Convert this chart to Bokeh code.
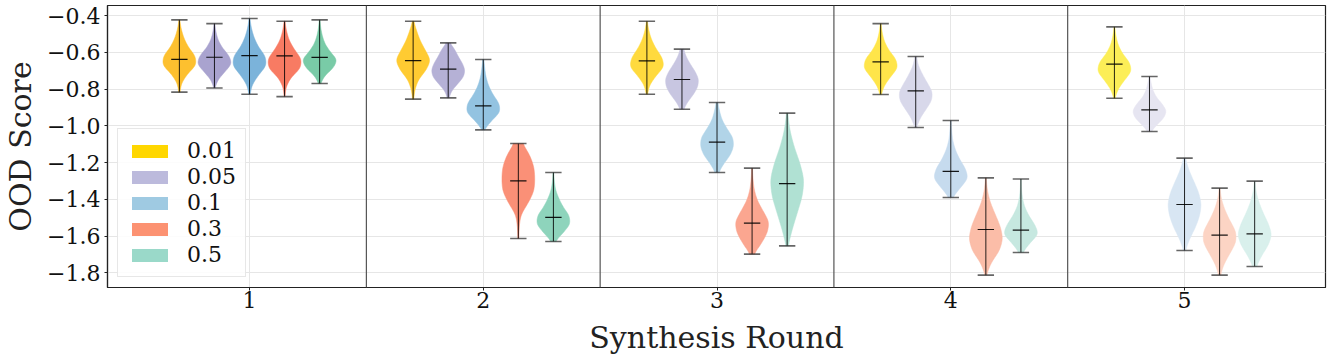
import numpy as np
from bokeh.plotting import figure
from bokeh.models import ColumnDataSource, Span, Legend, LegendItem
from bokeh.embed import file_html
from bokeh.resources import INLINE

# ---------------- data ----------------
rounds = [1, 2, 3, 4, 5]
series = ["0.01", "0.05", "0.1", "0.3", "0.5"]

# per series: values for rounds 1..5
v_min = {
    "0.01": [-0.817, -0.855, -0.828, -0.830, -0.850],
    "0.05": [-0.794, -0.848, -0.910, -1.009, -1.031],
    "0.1":  [-0.828, -1.022, -1.254, -1.390, -1.678],
    "0.3":  [-0.841, -1.613, -1.698, -1.812, -1.812],
    "0.5":  [-0.770, -1.629, -1.653, -1.689, -1.765],
}
v_max = {
    "0.01": [-0.424, -0.431, -0.431, -0.444, -0.462],
    "0.05": [-0.444, -0.549, -0.583, -0.623, -0.732],
    "0.1":  [-0.416, -0.639, -0.873, -0.971, -1.176],
    "0.3":  [-0.431, -1.096, -1.230, -1.283, -1.339],
    "0.5":  [-0.424, -1.254, -0.931, -1.289, -1.301],
}
v_med = {
    "0.01": [-0.639, -0.645, -0.647, -0.652, -0.665],
    "0.05": [-0.627, -0.692, -0.748, -0.810, -0.913],
    "0.1":  [-0.618, -0.892, -1.089, -1.248, -1.428],
    "0.3":  [-0.620, -1.299, -1.529, -1.564, -1.595],
    "0.5":  [-0.628, -1.498, -1.314, -1.567, -1.588],
}
# relative density at 9 evenly spaced levels from min (first) to max (last)
v_density = {
    "0.01": [
        [0.03, 0.12, 0.45, 0.95, 0.90, 0.50, 0.25, 0.10, 0.02],
        [0.03, 0.10, 0.30, 0.75, 1.00, 0.70, 0.40, 0.20, 0.03],
        [0.03, 0.15, 0.50, 0.95, 0.85, 0.50, 0.25, 0.10, 0.02],
        [0.03, 0.20, 0.55, 0.95, 0.85, 0.45, 0.20, 0.08, 0.02],
        [0.03, 0.20, 0.55, 0.95, 0.85, 0.45, 0.20, 0.08, 0.02],
    ],
    "0.05": [
        [0.03, 0.20, 0.60, 1.00, 0.85, 0.45, 0.20, 0.08, 0.02],
        [0.05, 0.20, 0.55, 0.90, 1.00, 0.85, 0.60, 0.40, 0.10],
        [0.10, 0.35, 0.70, 0.95, 1.00, 0.80, 0.50, 0.25, 0.10],
        [0.05, 0.25, 0.60, 0.95, 1.00, 0.70, 0.40, 0.15, 0.05],
        [0.10, 0.45, 0.85, 1.00, 0.75, 0.40, 0.20, 0.10, 0.03],
    ],
    "0.1": [
        [0.03, 0.15, 0.50, 0.95, 0.90, 0.50, 0.25, 0.10, 0.02],
        [0.05, 0.45, 0.95, 0.90, 0.55, 0.30, 0.15, 0.08, 0.03],
        [0.10, 0.40, 0.80, 1.00, 0.95, 0.60, 0.30, 0.15, 0.05],
        [0.10, 0.55, 1.00, 0.85, 0.50, 0.25, 0.10, 0.05, 0.02],
        [0.05, 0.30, 0.65, 0.90, 1.00, 0.85, 0.55, 0.25, 0.05],
    ],
    "0.3": [
        [0.02, 0.08, 0.35, 0.90, 0.95, 0.55, 0.25, 0.10, 0.02],
        [0.03, 0.05, 0.15, 0.60, 0.95, 1.00, 0.95, 0.70, 0.25],
        [0.10, 0.55, 0.90, 1.00, 0.65, 0.30, 0.12, 0.05, 0.02],
        [0.03, 0.30, 0.80, 1.00, 0.85, 0.55, 0.25, 0.08, 0.02],
        [0.05, 0.25, 0.60, 0.95, 0.95, 0.60, 0.30, 0.10, 0.02],
    ],
    "0.5": [
        [0.05, 0.30, 0.80, 1.00, 0.60, 0.30, 0.15, 0.06, 0.02],
        [0.10, 0.55, 0.95, 0.90, 0.55, 0.30, 0.12, 0.05, 0.02],
        [0.05, 0.30, 0.60, 0.90, 1.00, 0.75, 0.40, 0.15, 0.03],
        [0.10, 0.50, 1.00, 0.80, 0.45, 0.20, 0.08, 0.03, 0.02],
        [0.10, 0.40, 0.80, 1.00, 0.80, 0.50, 0.25, 0.08, 0.02],
    ],
}

y_ticks = [-1.8, -1.6, -1.4, -1.2, -1.0, -0.8, -0.6, -0.4]
y_tick_labels = ["\u22121.8", "\u22121.6", "\u22121.4", "\u22121.2",
                 "\u22121.0", "\u22120.8", "\u22120.6", "\u22120.4"]
x_tick_labels = ["1", "2", "3", "4", "5"]

# ---------------- style ----------------
FONT = "DejaVu Serif"
fill_colors = {
    "0.01": ["#FDC02F", "#FFCB32", "#FFDA3E", "#FFE54A", "#FCEE57"],
    "0.05": ["#A9A3CF", "#B5B1D6", "#C8C6E1", "#D8D8EA", "#E6E5F1"],
    "0.1":  ["#7BB3DA", "#93C3E1", "#B1D4E8", "#C6DBEE", "#D8E6F3"],
    "0.3":  ["#F87B63", "#FA9077", "#FBA690", "#FBBDA8", "#FCD4C4"],
    "0.5":  ["#79CBA7", "#8ED4BC", "#B0E1D3", "#C6E8E0", "#D9F0EC"],
}
legend_colors = ["#FFD700", "#BCBADC", "#9FCAE2", "#FC9272", "#9AD9C9"]
offset_step = 0.15
violin_width = 0.14
cap_half = violin_width * 0.25


def smooth_profile(lo, hi, dens, n=90):
    levels = np.linspace(lo, hi, len(dens))
    ys = np.linspace(lo, hi, n)
    w = np.interp(ys, levels, dens)
    k = np.exp(-0.5 * (np.arange(-9, 10) / 3.5) ** 2)
    k /= k.sum()
    ws = np.convolve(np.pad(w, 9, mode="edge"), k, mode="valid")
    return ys, ws / ws.max()


p = figure(frame_width=1218, frame_height=282, output_backend="svg",
           toolbar_location=None,
           x_range=(0.3925, 5.603), y_range=(-1.8794, -0.3456),
           min_border_left=101, min_border_right=4, min_border_top=5,
           min_border_bottom=68)

p.background_fill_color = "white"
p.outline_line_color = "#222222"
p.outline_line_width = 1.2
p.xgrid.grid_line_color = "#e6e6e6"
p.ygrid.grid_line_color = "#e6e6e6"
p.xgrid.grid_line_width = 1
p.ygrid.grid_line_width = 1

# separators between rounds
for r in rounds[:-1]:
    p.add_layout(Span(location=r + 0.5, dimension="height",
                      line_color="#555555", line_width=1.2))

pxs, pys, pcol = [], [], []
seg = dict(x=[], lo=[], hi=[], med=[], xl=[], xr=[])
for si, s in enumerate(series):
    off = (si - 2) * offset_step
    for ri, r in enumerate(rounds):
        cx = r + off
        lo, hi, md = v_min[s][ri], v_max[s][ri], v_med[s][ri]
        ys, ws = smooth_profile(lo, hi, v_density[s][ri])
        hw = violin_width / 2 * ws
        pxs.append(list(np.concatenate([cx + hw, (cx - hw)[::-1]])))
        pys.append(list(np.concatenate([ys, ys[::-1]])))
        pcol.append(fill_colors[s][ri])
        seg["x"].append(cx)
        seg["lo"].append(lo)
        seg["hi"].append(hi)
        seg["med"].append(md)
        seg["xl"].append(cx - cap_half)
        seg["xr"].append(cx + cap_half)

vsrc = ColumnDataSource(dict(xs=pxs, ys=pys, color=pcol))
p.patches(xs="xs", ys="ys", source=vsrc, fill_color="color",
          line_color="color", line_width=0.5, fill_alpha=1.0)

ssrc = ColumnDataSource(seg)
p.segment(x0="x", y0="lo", x1="x", y1="hi", source=ssrc,
          line_color="black", line_width=1, line_alpha=0.85)
p.segment(x0="xl", y0="lo", x1="xr", y1="lo", source=ssrc,
          line_color="#333333", line_width=1.6, line_alpha=0.75)
p.segment(x0="xl", y0="hi", x1="xr", y1="hi", source=ssrc,
          line_color="#333333", line_width=1.6, line_alpha=0.75)
p.segment(x0="xl", y0="med", x1="xr", y1="med", source=ssrc,
          line_color="black", line_width=1.2, line_alpha=0.9)

# legend: zero-area proxy quads (draw nothing in the plot) carrying legend colours
items = []
for si, (s, c) in enumerate(zip(series, legend_colors)):
    x0 = rounds[0] + (si - 2) * offset_step
    y0 = v_med[s][0]
    rnd = p.quad(left=[x0], right=[x0], top=[y0], bottom=[y0],
                 fill_color=c, line_color=None)
    items.append(LegendItem(label=s, renderers=[rnd]))
legend = Legend(items=items, location="bottom_left")
legend.label_text_font = FONT
legend.label_text_font_size = "22px"
legend.label_text_color = "#111111"
legend.glyph_width = 45
legend.glyph_height = 16
legend.label_standoff = 15
legend.spacing = 1
legend.padding = 9
legend.margin = 10
legend.border_line_color = "#d0d0d0"
legend.border_line_width = 1
legend.background_fill_alpha = 0.85
p.add_layout(legend)

# axes
p.yaxis.ticker = y_ticks
p.yaxis.major_label_overrides = dict(zip(y_ticks, y_tick_labels))
p.xaxis.ticker = rounds
p.xaxis.major_label_overrides = dict(zip(rounds, x_tick_labels))
for ax in (p.xaxis, p.yaxis):
    ax.major_label_text_font = FONT
    ax.major_label_text_font_size = "22px"
    ax.major_label_text_color = "#111111"
    ax.axis_label_text_font = FONT
    ax.axis_label_text_font_size = "30px"
    ax.axis_label_text_font_style = "normal"
    ax.axis_label_text_color = "#222222"
    ax.minor_tick_line_color = None
    ax.major_tick_in = 0
    ax.major_tick_out = 3
    ax.major_tick_line_color = "#222222"
    ax.axis_line_color = "#222222"
    ax.axis_line_width = 1.2
p.yaxis.major_label_standoff = 4
p.xaxis.major_label_standoff = 1
p.xaxis.axis_label = "Synthesis Round"
p.yaxis.axis_label = "OOD Score"
p.xaxis.axis_label_standoff = 9
p.yaxis.axis_label_standoff = 6

open("out.html", "w").write(file_html(p, INLINE))
